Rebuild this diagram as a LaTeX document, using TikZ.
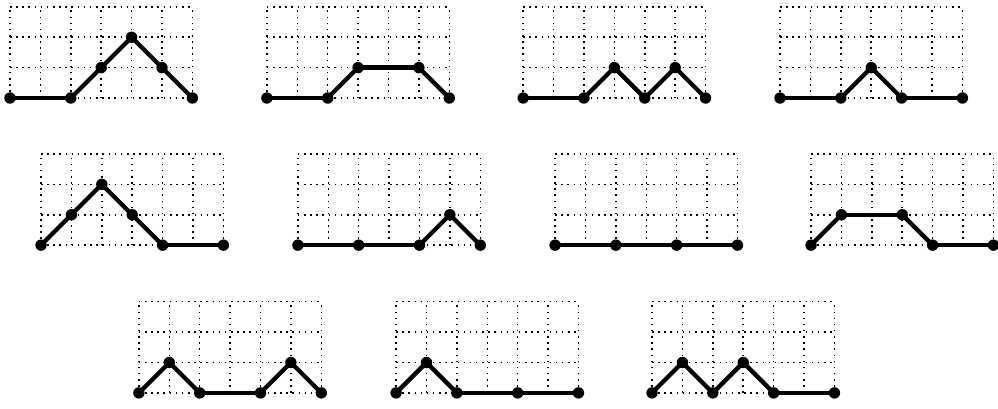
\documentclass[tikz,border=0pt]{standalone}
\usepackage{tikz}
\usetikzlibrary{positioning}

% one lattice path on its dotted 6x3 grid: name, origin, vertices
\newcommand{\latpath}[3]{%
  \begin{scope}[shift={#2}]
    \draw[gridln] (0,0) grid (6,3);
    \foreach \vx/\vy [count=\k, remember=\k as \j (initially 0)] in {#3} {
      \node[vert] (#1-\k) at (\vx,\vy) {};
      \ifnum\k>1 \draw[lnk] (#1-\j) -- (#1-\k); \fi
    }
  \end{scope}}

\begin{document}
\begin{tikzpicture}[
    x=0.6cm, y=0.6cm,
    gridln/.style={step=0.6cm, line width=0.85pt, dash pattern=on 0.85pt off 2.6pt},
    vert/.style={circle, fill=black, inner sep=0pt, minimum size=6.4pt},
    lnk/.style={line width=2.4pt, shorten <=-1pt, shorten >=-1pt}
  ]
    \useasboundingbox (-0.329,-10.197) rectangle (32.5,3.224);
    % first row
    \latpath{a}{(0,0)}{0/0,2/0,3/1,4/2,5/1,6/0}
    \latpath{b}{(8.45,0)}{0/0,2/0,3/1,5/1,6/0}
    \latpath{c}{(16.88,0)}{0/0,2/0,3/1,4/0,5/1,6/0}
    \latpath{d}{(25.33,0)}{0/0,2/0,3/1,4/0,6/0}
    % second row
    \latpath{e}{(1.02,-4.84)}{0/0,1/1,2/2,3/1,4/0,6/0}
    \latpath{f}{(9.47,-4.84)}{0/0,2/0,4/0,5/1,6/0}
    \latpath{g}{(17.93,-4.84)}{0/0,2/0,4/0,6/0}
    \latpath{h}{(26.35,-4.84)}{0/0,1/1,3/1,4/0,6/0}
    % third row
    \latpath{i}{(4.24,-9.70)}{0/0,1/1,2/0,4/0,5/1,6/0}
    \latpath{j}{(12.70,-9.70)}{0/0,1/1,2/0,4/0,6/0}
    \latpath{k}{(21.12,-9.70)}{0/0,1/1,2/0,3/1,4/0,6/0}
  \end{tikzpicture}
\end{document}
